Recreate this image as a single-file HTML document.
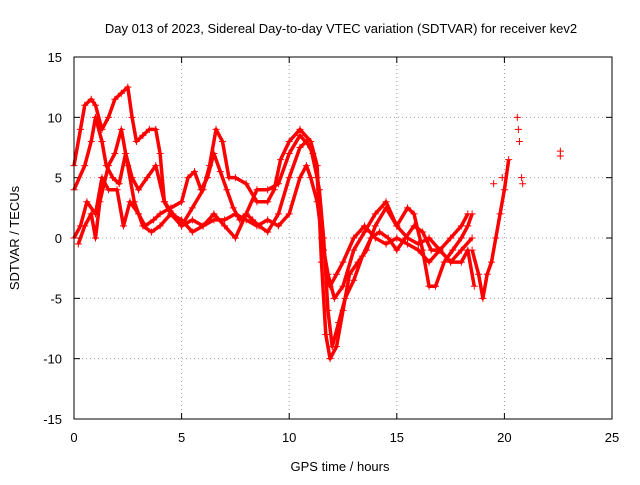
<!DOCTYPE html>
<html><head><meta charset="utf-8"><style>
body{margin:0;background:#fff}
svg text{font-family:"Liberation Sans",sans-serif;font-size:13px;fill:#000}
</style></head><body>
<svg id="chart" width="640" height="480" viewBox="0 0 640 480" xmlns="http://www.w3.org/2000/svg">
<text x="341" y="33" text-anchor="middle">Day 013 of 2023, Sidereal Day-to-day VTEC variation (SDTVAR) for receiver kev2</text>
<text x="340" y="471" text-anchor="middle">GPS time / hours</text>
<text transform="translate(19,238) rotate(-90)" text-anchor="middle">SDTVAR / TECUs</text>
<g id="grid"></g>
<g id="ticks"></g>
<g id="marks"></g>
<rect x="74" y="57" width="538" height="362" fill="none" stroke="#000" stroke-width="1"/>
</svg>
<script>
const xTicks=[0,5,10,15,20,25];
const yTicks=[-15,-10,-5,0,5,10,15];
const track1=[[0,6],[0.3,9],[0.5,11],[0.8,11.5],[1.0,11],[1.3,9],[1.6,10],[1.9,11.5],[2.2,12],[2.5,12.5],[2.7,10],[2.9,8],[3.2,8.5],[3.5,9],[3.8,9],[4.0,7],[4.2,3],[4.5,2],[5,1],[5.5,2.5],[6,4],[6.3,6],[6.6,9],[6.9,8],[7.2,5],[7.5,5],[8,4.5],[8.5,3],[9,3],[9.3,4],[9.6,6.5],[10,8],[10.5,9],[11,8],[11.3,6],[11.5,-2],[11.7,-8],[11.9,-10],[12.2,-9],[12.5,-6],[12.8,-3],[13.2,-2],[13.6,-1],[14,1],[14.5,2.5],[15,1],[15.5,2.5],[15.8,2],[16.2,-1],[16.5,-4],[16.8,-4],[17.2,-2],[17.6,-1],[18,0],[18.3,1],[18.5,2]];
const track2=[[0,0],[0.3,1],[0.6,3],[1,2],[1.3,5],[1.6,4],[2,4],[2.3,1],[2.6,3],[3,2],[3.3,1],[3.7,1.5],[4,2],[4.5,2.5],[5,3],[5.3,5],[5.6,5.5],[5.9,4],[6.2,5],[6.5,7],[6.8,5.5],[7.1,4],[7.4,2.5],[7.7,1.5],[8,2],[8.3,1.5],[8.6,1],[9,0.5],[9.5,2],[10,5],[10.5,7.5],[10.8,8],[11.1,7],[11.4,4],[11.6,0],[11.8,-6],[12,-9],[12.3,-7],[12.6,-5],[13,-3.5],[13.4,-1.5],[13.8,0],[14.2,0.5],[14.6,0],[15,-1],[15.4,0],[15.8,1],[16.2,0.5],[16.6,-1],[17,-1],[17.5,-2],[18,-2],[18.3,-1],[18.6,-4]];
const track3=[[0,4],[0.5,6],[0.8,8],[1,10],[1.3,8],[1.5,6],[1.8,5],[2.1,4.5],[2.4,7],[2.7,5],[3,4],[3.4,5],[3.8,6],[4.2,3],[4.6,2],[5,1],[5.5,1.5],[6,1],[6.5,1.5],[7,1.5],[7.5,2],[8,1.5],[8.5,1],[9,1.5],[9.5,1],[10,2],[10.5,5],[10.8,6],[11,5],[11.3,3],[11.6,-1],[11.9,-4],[12.2,-3],[12.5,-2],[13,0],[13.5,1],[14,0],[14.5,-0.5],[15,0],[15.5,-0.5],[16,-1],[16.5,-2],[17,-1],[17.5,0],[18,1],[18.3,2]];
const track4=[[0.2,-0.5],[0.5,1],[0.8,2],[1,0],[1.2,3],[1.6,6],[1.9,7],[2.2,9],[2.5,6],[2.8,3],[3.2,1],[3.6,0.5],[4,1],[4.5,2],[5,1.5],[5.5,0.5],[6,1],[6.5,2],[7,1],[7.5,0],[8,2],[8.5,4],[9,4],[9.5,4.5],[10,7],[10.5,8.5],[11,7.5],[11.3,5],[11.5,0],[11.8,-3],[12.1,-5],[12.5,-4],[13,-1],[13.5,0.5],[14,2],[14.5,3],[15,1],[15.5,0],[16,-0.5],[16.5,0],[17,-1],[17.5,-2],[18,-1],[18.5,0]];
const track5=[[18.5,-1],[18.8,-3],[19,-5],[19.2,-3],[19.4,-2],[19.6,0],[19.8,2],[20,4],[20.2,6.5]];
const isolated=[[20.6,10],[20.65,9],[20.7,8],[20.8,5],[20.85,4.5],[22.6,7.2],[22.6,6.8],[19.9,5],[19.5,4.5]];
const tracks=[track1,track2,track3,track4,track5];

const X0=74,X1=612,Y0=419,Y1=57,xmin=0,xmax=25,ymin=-15,ymax=15;
const xs=v=>X0+(v-xmin)/(xmax-xmin)*(X1-X0);
const ys=v=>Y0-(v-ymin)/(ymax-ymin)*(Y0-Y1);
const NS="http://www.w3.org/2000/svg";
function mk(tag,attrs,parent){const e=document.createElementNS(NS,tag);for(const k in attrs)e.setAttribute(k,attrs[k]);parent.appendChild(e);return e;}
const grid=document.getElementById('grid'),ticks=document.getElementById('ticks'),marks=document.getElementById('marks');
xTicks.forEach(t=>{const x=xs(t);
 if(t>xmin&&t<xmax){const g=mk('line',{x1:x,x2:x,y1:Y1,y2:Y0,stroke:'#a0a0a0','stroke-dasharray':'1,3'},grid);
 
 }
 mk('line',{x1:x,x2:x,y1:Y0,y2:Y0-6,stroke:'#000'},ticks);
 mk('line',{x1:x,x2:x,y1:Y1,y2:Y1+6,stroke:'#000'},ticks);
 const tx=mk('text',{x:x,y:Y0+23,'text-anchor':'middle'},ticks);tx.textContent=t;
 
 
});
yTicks.forEach(t=>{const y=ys(t);
 if(t>ymin&&t<ymax){const g=mk('line',{x1:X0,x2:X1,y1:y,y2:y,stroke:'#a0a0a0','stroke-dasharray':'1,3'},grid);
 
 }
 mk('line',{x1:X0,x2:X0+6,y1:y,y2:y,stroke:'#000'},ticks);
 mk('line',{x1:X1,x2:X1-6,y1:y,y2:y,stroke:'#000'},ticks);
 const tx=mk('text',{x:X0-12,y:y+5,'text-anchor':'end'},ticks);tx.textContent=t;
 
 
});
function plus(x,y){const p=mk('path',{d:`M${x-3.5},${y}h7M${x},${y-3.5}v7`,stroke:'#f00','stroke-width':1},marks);
 
 }
tracks.forEach((tr,i)=>{
 const pl=mk('polyline',{points:tr.map(p=>xs(p[0])+','+ys(p[1])).join(' '),fill:'none',stroke:'#f00','stroke-width':3.5,'stroke-linejoin':'round'},marks);
 
 
 tr.forEach(p=>plus(xs(p[0]),ys(p[1])));
});
isolated.forEach(p=>plus(xs(p[0]),ys(p[1])));
</script>
</body></html>
